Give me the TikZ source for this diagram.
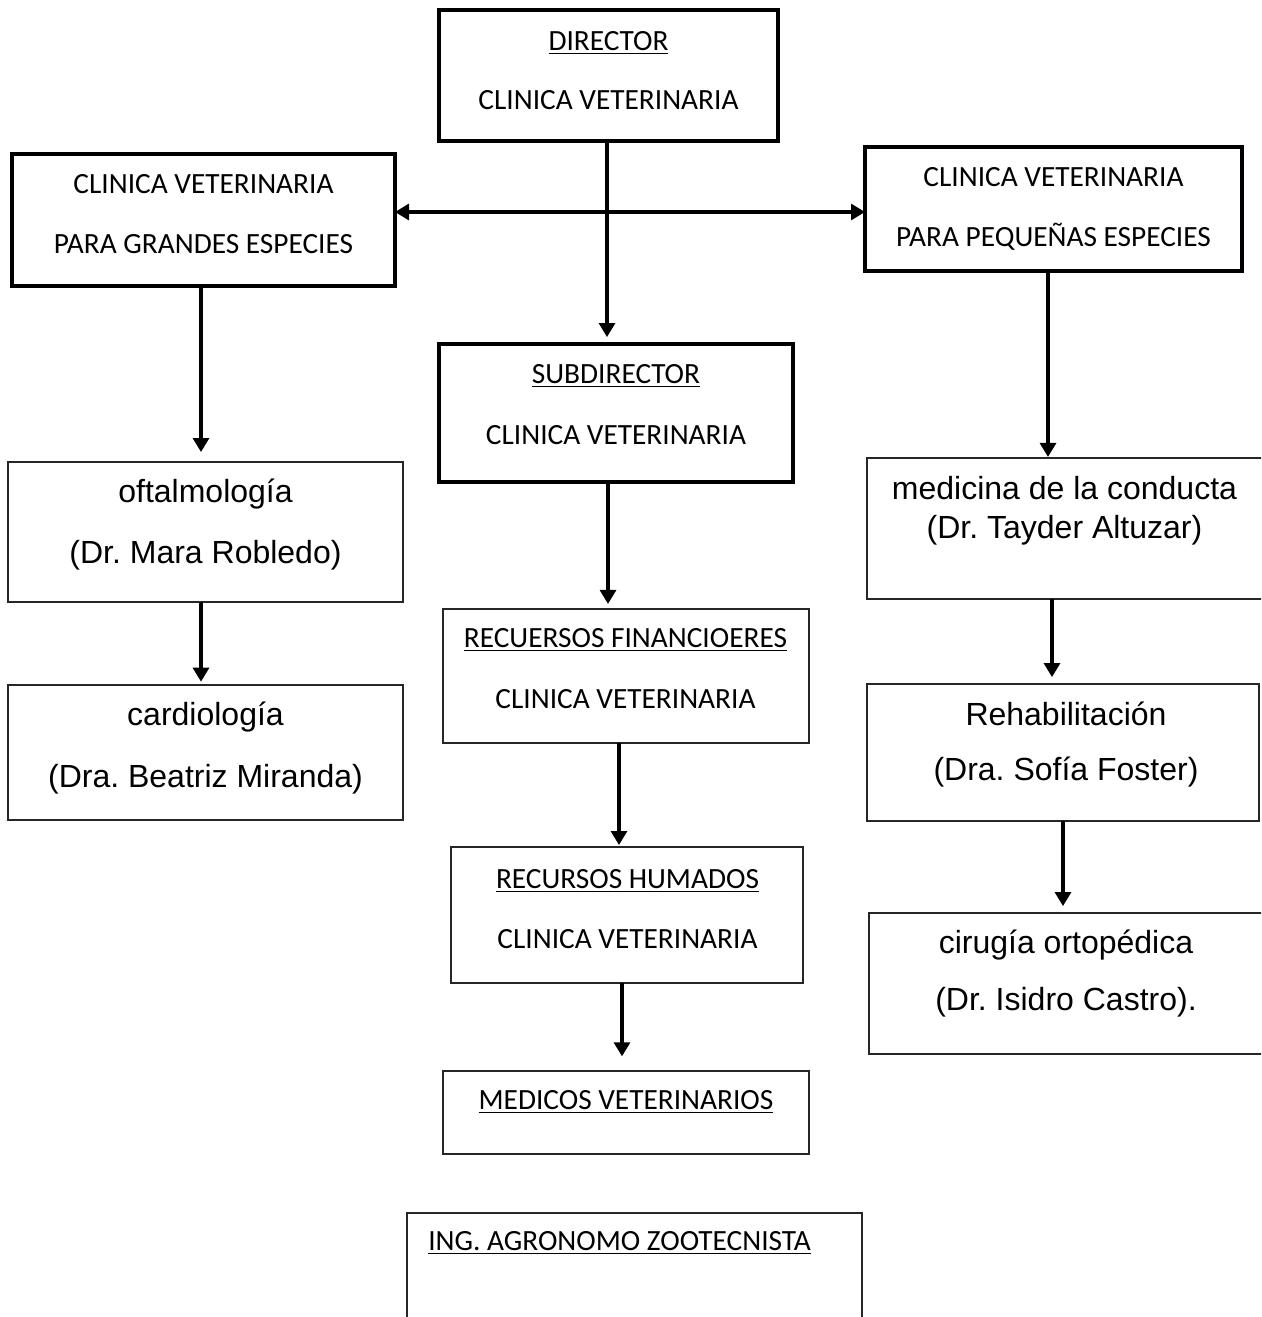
\documentclass[tikz,border=0pt]{standalone}
\usepackage{fontspec}
\setmainfont{Carlito}
\newfontfamily\arialf{Liberation Sans}
\usetikzlibrary{arrows.meta,calc}
\frenchspacing
\newcommand\myul[1]{\setbox0\hbox{#1}\rlap{\vrule width\wd0 height -1.9pt depth 3.1pt}\box0}
\newcommand\bx[6]{\node[#6, minimum width={(#4-#2)*0.75pt}, minimum height={(#5-#3)*0.75pt}, anchor=north west] (#1) at (#2,#3) {};}
\begin{document}
\begin{tikzpicture}[x=0.75pt,y=-0.75pt,
  thickbox/.style={draw=black, line width=2.4pt, inner sep=0pt, outer sep=0pt, rectangle},
  thinbox/.style={draw=black!85, line width=1.4pt, inner sep=0pt, outer sep=0pt, rectangle},
  cal/.style={font=\fontsize{22}{24}\selectfont, inner sep=0pt, anchor=base},
  ari/.style={font=\arialf\fontsize{24}{26}\selectfont, inner sep=0pt, anchor=base},
  arr/.style={line width=2.3pt, -{Triangle[length=10.5pt,width=12pt]}},
  darr/.style={line width=2.3pt, {Triangle[length=10.5pt,width=12pt]}-{Triangle[length=10.5pt,width=12pt]}},
]
\clip (0,0) rectangle (1261,1317);
\fill[white] (0,0) rectangle (1261,1317);

% boxes
\bx{dir}{439}{10}{778}{141}{thickbox}
\bx{gra}{12}{154}{395}{286}{thickbox}
\bx{peq}{865}{147}{1242}{271}{thickbox}
\bx{sub}{439}{344}{793}{482}{thickbox}
\bx{oft}{8}{462}{403}{602}{thinbox}
\bx{car}{8}{685}{403}{820}{thinbox}
\bx{med}{867}{458}{1275}{599}{thinbox}
\bx{reh}{867}{684}{1259}{821}{thinbox}
\bx{cir}{869}{913}{1275}{1054}{thinbox}
\bx{rf}{443}{609}{809}{743}{thinbox}
\bx{rh}{451}{847}{803}{983}{thinbox}
\bx{mv}{443}{1071}{809}{1154}{thinbox}
\bx{ing}{407}{1213}{862}{1340}{thinbox}

% texts
\node[cal] (t1) at (608.5,50) {\myul{DIRECTOR}};
\node[cal] (t2) at (608.5,109) {CLINICA VETERINARIA};
\node[cal] (t3) at (203.5,193) {CLINICA VETERINARIA};
\node[cal] (t4) at (203.5,253) {PARA GRANDES ESPECIES};
\node[cal] (t5) at (1053.5,186) {CLINICA VETERINARIA};
\node[cal] (t6) at (1053.5,246) {PARA PEQUEÑAS ESPECIES};
\node[cal] (t7) at (616,383) {\myul{SUBDIRECTOR}};
\node[cal] (t8) at (616,444) {CLINICA VETERINARIA};
\node[cal] (t9) at (625.5,647) {\myul{RECUERSOS FINANCIOERES}};
\node[cal] (t10) at (625.5,708) {CLINICA VETERINARIA};
\node[cal] (t11) at (627.5,888) {\myul{RECURSOS HUMADOS}};
\node[cal] (t12) at (627.5,948) {CLINICA VETERINARIA};
\node[cal] (t13) at (626,1109) {\myul{MEDICOS VETERINARIOS}};
\node[cal, anchor=base west] (t14) at (428,1250) {\myul{ING. AGRONOMO ZOOTECNISTA}};

\node[ari] (a1) at (205.5,502) {oftalmología};
\node[ari] (a2) at (205.5,563) {(Dr. Mara Robledo)};
\node[ari] (a3) at (205.5,725) {cardiología};
\node[ari] (a4) at (205.5,787) {(Dra. Beatriz Miranda)};
\node[ari] (a5) at (1064.5,499) {medicina de la conducta};
\node[ari] (a6) at (1064.5,538) {(Dr. Tayder Altuzar)};
\node[ari] (a7) at (1066,725) {Rehabilitación};
\node[ari] (a8) at (1066,780) {(Dra. Sofía Foster)};
\node[ari] (a9) at (1066,953) {cirugía ortopédica};
\node[ari] (a10) at (1066,1010) {(Dr. Isidro Castro).};

% connectors
\coordinate (c1) at ($(dir.south west)+(168,0)$);
\draw[arr, shorten >=5.2pt] (c1) -- (c1 |- sub.north);
\draw[darr] (gra.east |- 0,212) -- (peq.west |- 0,212);
\coordinate (c2) at ($(gra.south west)+(189,0)$);
\draw[arr, shorten >=7.5pt] (c2) -- (c2 |- oft.north);
\coordinate (c3) at ($(oft.south west)+(193,0)$);
\draw[arr, shorten >=2.5pt] (c3) -- (c3 |- car.north);
\coordinate (c4) at ($(peq.south west)+(183,0)$);
\draw[arr, shorten >=0.8pt] (c4) -- (c4 |- med.north);
\coordinate (c5) at ($(med.south west)+(185,0)$);
\draw[arr, shorten >=5.2pt] (c5) -- (c5 |- reh.north);
\coordinate (c6) at ($(reh.south west)+(196,0)$);
\draw[arr, shorten >=5.2pt] (c6) -- (c6 |- cir.north);
\coordinate (c7) at ($(sub.south west)+(169,0)$);
\draw[arr, shorten >=3.8pt] (c7) -- (c7 |- rf.north);
\coordinate (c8) at ($(rf.south west)+(176,0)$);
\draw[arr, shorten >=1.5pt] (c8) -- (c8 |- rh.north);
\coordinate (c9) at ($(rh.south west)+(171,0)$);
\draw[arr, shorten >=11pt] (c9) -- (c9 |- mv.north);
\end{tikzpicture}
\end{document}
